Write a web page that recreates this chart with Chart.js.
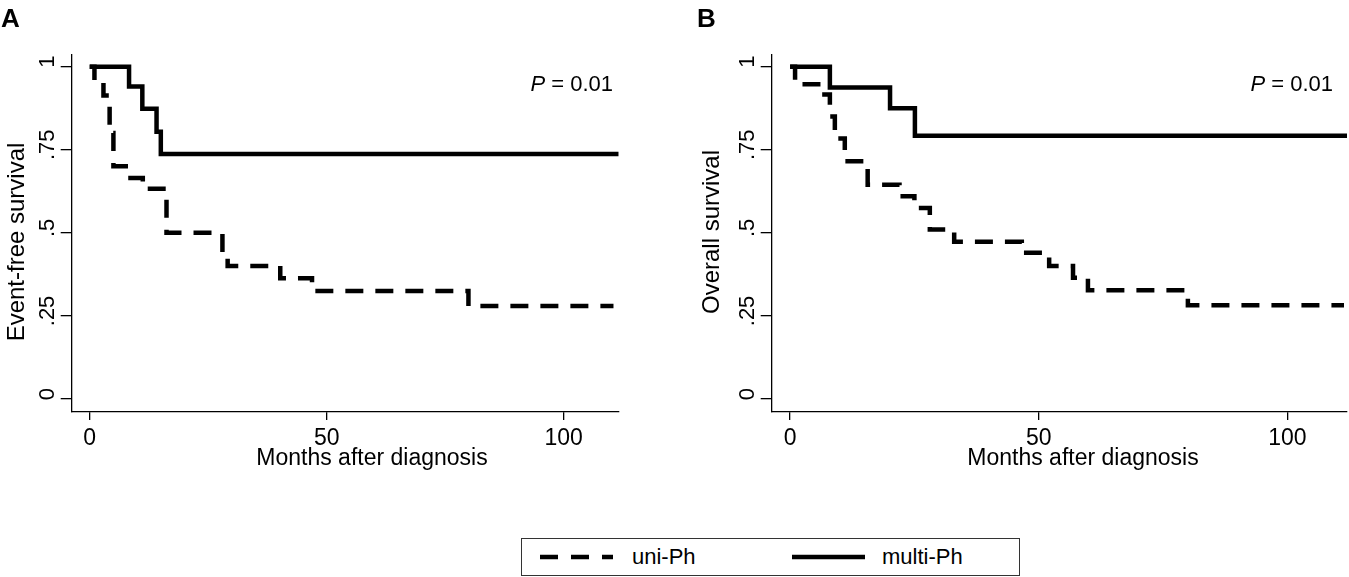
<!DOCTYPE html>
<html>
<head>
<meta charset="utf-8">
<script src="https://cdn.jsdelivr.net/npm/chart.js@4.4.1/dist/chart.umd.min.js"></script>
<style>
  body { margin: 0; background: #fff; }
  #wrap { position: relative; width: 1349px; height: 577px; background: #fff; overflow: hidden; }
  canvas { position: absolute; top: 0; }
  #legend { position: absolute; left: 521px; top: 538px; width: 497px; height: 36px; border: 1.5px solid #333;
            font-family: "Liberation Sans", Arial, sans-serif; font-size: 22px; color: #000; }
  #legend svg { position: absolute; top: 0; }
  #legend span { position: absolute; top: 5px; }
</style>
</head>
<body>
<div id="wrap">
  <canvas id="chartA" width="660" height="500" style="left:0px"></canvas>
  <canvas id="chartB" width="669" height="500" style="left:680px"></canvas>
  <div id="legend">
    <svg width="100" height="36" style="left:18px"><line x1="0" y1="18" x2="73" y2="18" stroke="#000" stroke-width="4.5" stroke-dasharray="18 13"/></svg>
    <span style="left:110px">uni-Ph</span>
    <svg width="100" height="36" style="left:270px"><line x1="0" y1="18" x2="73" y2="18" stroke="#000" stroke-width="4.5"/></svg>
    <span style="left:360px">multi-Ph</span>
  </div>
</div>
<script>
// axis ticks
const xTicks = [0, 50, 100];
const yTicks = [0, 0.25, 0.5, 0.75, 1];
const yTickLabels = ['0', '.25', '.5', '.75', '1'];

// A: event-free survival (months, survival after the step)
const efsUniMonths = [0, 1.0, 2.9, 4.2, 5.0, 8.6, 11.2, 16.2, 28.0, 29.1, 40.2, 46.9, 79.9, 110.5];
const efsUniSurv   = [1, 0.96, 0.913, 0.80, 0.70, 0.665, 0.633, 0.50, 0.43, 0.40, 0.363, 0.325, 0.28, 0.28];
const efsMultiMonths = [0, 8.3, 11.1, 14.1, 15.0, 111.6];
const efsMultiSurv   = [1, 0.94, 0.873, 0.804, 0.737, 0.737];

// B: overall survival
const osUniMonths = [0, 1.0, 6.3, 8.0, 9.0, 11.0, 15.6, 22.0, 25.0, 28.1, 33.0, 46.6, 52.1, 56.9, 59.9, 80.0, 111.4];
const osUniSurv   = [1, 0.947, 0.916, 0.85, 0.784, 0.715, 0.645, 0.61, 0.575, 0.51, 0.473, 0.44, 0.40, 0.365, 0.327, 0.282, 0.282];
const osMultiMonths = [0, 8.0, 20.1, 25.1, 112];
const osMultiSurv   = [1, 0.9375, 0.875, 0.792, 0.792];

const FONT = '"Liberation Sans", Arial, sans-serif';

function toPoints(xs, ys) {
    return xs.map((x, i) => ({ x: x, y: ys[i] }));
}

// panel letter, P value and axis titles
const panelText = {
    id: 'panelText',
    afterDraw(chart, args, o) {
        const ctx = chart.ctx;
        ctx.save();
        ctx.fillStyle = '#000';
        ctx.textAlign = 'left';
        ctx.textBaseline = 'alphabetic';
        ctx.font = 'bold 26px ' + FONT;
        ctx.fillText(o.letter, o.letterX, 27);

        // P = 0.01, italic P
        ctx.font = 'italic 22px ' + FONT;
        const wP = ctx.measureText('P').width;
        ctx.font = '22px ' + FONT;
        const rest = ' = 0.01';
        const wR = ctx.measureText(rest).width;
        ctx.textBaseline = 'middle';
        ctx.font = 'italic 22px ' + FONT;
        ctx.fillText('P', o.pRight - wP - wR, 85);
        ctx.font = '22px ' + FONT;
        ctx.fillText(rest, o.pRight - wR, 85);

        ctx.textAlign = 'center';
        ctx.font = '23px ' + FONT;
        ctx.fillText(o.xTitle, o.xTitleX, 459);

        ctx.translate(o.yTitleX, o.yTitleY);
        ctx.rotate(-Math.PI / 2);
        ctx.font = '24px ' + FONT;
        ctx.fillText(o.yTitle, 0, 0);
        ctx.restore();
    }
};

function makeChart(id, uniX, uniY, multiX, multiY, cfg) {
    return new Chart(document.getElementById(id), {
        type: 'line',
        data: {
            datasets: [{
                label: 'uni-Ph',
                data: toPoints(uniX, uniY),
                borderColor: '#000',
                borderWidth: 4.5,
                borderDash: [18, 12],
                stepped: true,
                pointRadius: 0,
                fill: false
            }, {
                label: 'multi-Ph',
                data: toPoints(multiX, multiY),
                borderColor: '#000',
                borderWidth: 4.5,
                stepped: true,
                pointRadius: 0,
                fill: false
            }]
        },
        options: {
            responsive: false,
            animation: false,
            events: [],
            layout: { padding: { left: 0, top: 55, right: cfg.padRight, bottom: 0 } },
            plugins: {
                legend: { display: false },
                tooltip: { enabled: false },
                panelText: cfg.text
            },
            scales: {
                x: {
                    type: 'linear',
                    min: cfg.xMin,
                    max: cfg.xMax,
                    afterBuildTicks: s => { s.ticks = xTicks.map(v => ({ value: v })); },
                    afterFit: s => { s.height = 88; },
                    ticks: { color: '#000', font: { family: FONT, size: 23 }, padding: 5, maxRotation: 0 },
                    grid: { drawOnChartArea: false, tickLength: 8, color: '#000', lineWidth: 1.3 },
                    border: { display: true, color: '#000', width: 1.3 }
                },
                y: {
                    type: 'linear',
                    min: -0.039,
                    max: 1.035,
                    afterBuildTicks: s => { s.ticks = yTicks.map(v => ({ value: v })); },
                    afterFit: s => { s.width = cfg.yWidth; },
                    ticks: {
                        color: '#000', font: { family: FONT, size: 22 },
                        minRotation: 90, maxRotation: 90, crossAlign: 'center', padding: -3,
                        labelOffset: -5,
                        callback: (v, i) => yTickLabels[i]
                    },
                    grid: { drawOnChartArea: false, tickLength: 11, color: '#000', lineWidth: 1.3 },
                    border: { display: true, color: '#000', width: 1.3 }
                }
            }
        },
        plugins: [panelText]
    });
}

makeChart('chartA', efsUniMonths, efsUniSurv, efsMultiMonths, efsMultiSurv, {
    xMin: -3.8, xMax: 111.6, padRight: 41.3, yWidth: 71.7,
    text: { letter: 'A', letterX: 1, pRight: 613, xTitle: 'Months after diagnosis', xTitleX: 372,
            yTitle: 'Event-free survival', yTitleX: 17, yTitleY: 242 }
});

makeChart('chartB', osUniMonths, osUniSurv, osMultiMonths, osMultiSurv, {
    xMin: -3.7, xMax: 112, padRight: 2, yWidth: 91.7,
    text: { letter: 'B', letterX: 17, pRight: 653, xTitle: 'Months after diagnosis', xTitleX: 403,
            yTitle: 'Overall survival', yTitleX: 32, yTitleY: 232 }
});
</script>
</body>
</html>
